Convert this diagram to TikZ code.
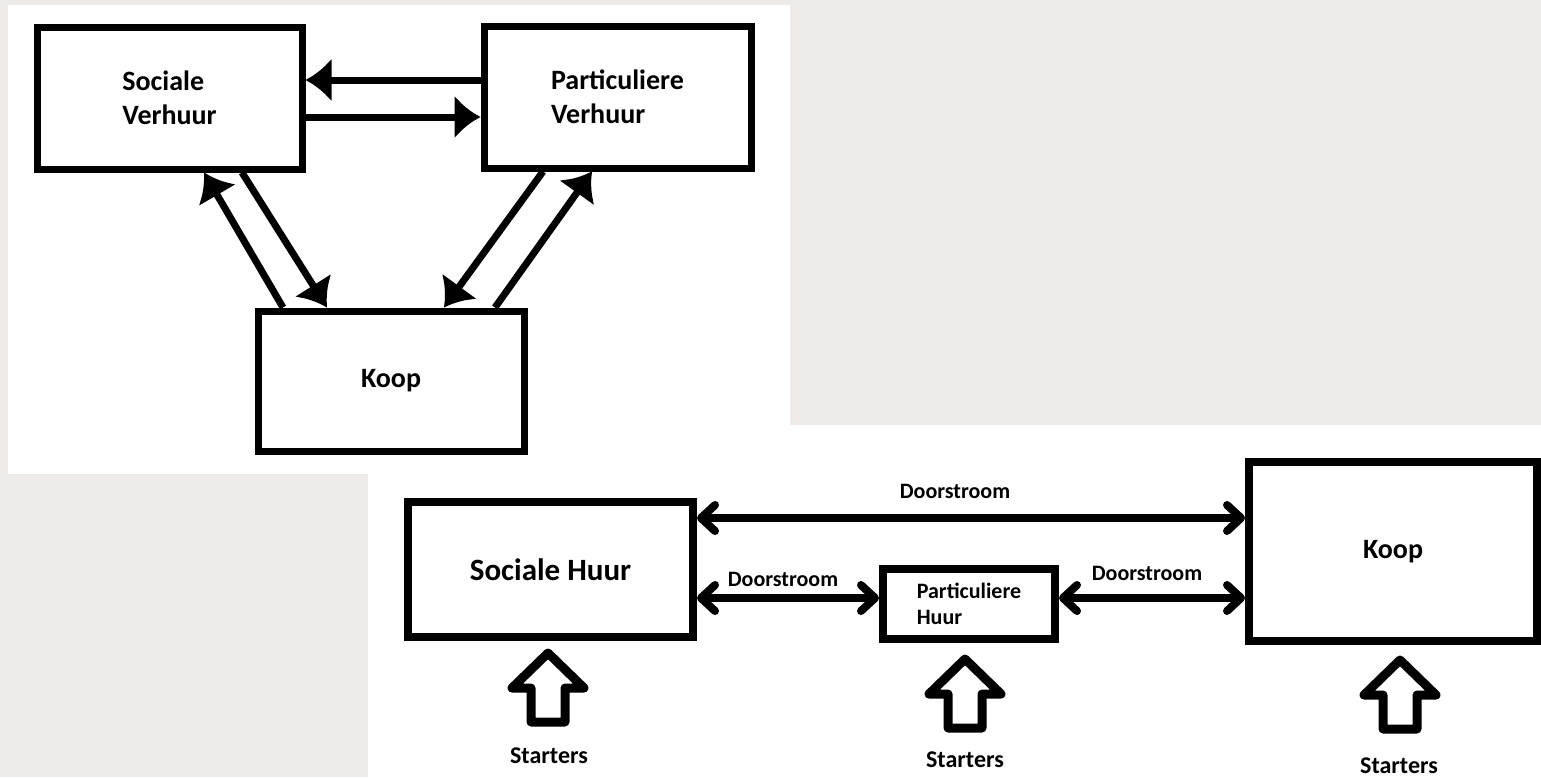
\documentclass[tikz,border=0pt]{standalone}
\usepackage{fontspec}
\setmainfont{Carlito}
\usepackage{tikz}
\usetikzlibrary{arrows.meta,backgrounds,calc,positioning}
\definecolor{paneelgrijs}{RGB}{237,234,231}

\begin{document}
\begin{tikzpicture}[x=0.5pt,y=-0.5pt,
blok/.style={draw,line width=3.5pt,fill=white,align=left,inner sep=0pt,font=\fontsize{14}{17}\selectfont\bfseries},
blokb/.style={draw,line width=4pt,fill=white,align=left,inner sep=0pt},
stroom/.style={line width=3.5pt,-{Latex[length=13pt,width=22pt]}},
door/.style={line width=4pt,{Straight Barb[length=7pt,width=13pt,round]}-{Straight Barb[length=7pt,width=13pt,round]}},
tekst/.style={inner sep=0pt,font=\fontsize{11}{13}\selectfont\bfseries},
starttekst/.style={inner sep=0pt,font=\fontsize{12}{14}\selectfont\bfseries},
starter/.pic={\draw[line width=4.5pt,line join=round,fill=white] (-17,0) -- (-17,-34) -- (-36,-34) -- (0,-69) -- (36,-34) -- (17,-34) -- (17,0) -- cycle;}
]
\useasboundingbox (0,0) rectangle (1541,777);
\fill[paneelgrijs] (0,0) rectangle (1541,777);
\fill[white] (8,5) rectangle (790,474);
\fill[white] (368,425) rectangle (1541,777);

\node[blok,minimum width=132.5pt,minimum height=71pt] (sv) at (169.5,98) {Sociale\\Verhuur};
\node[blok,minimum width=133.5pt,minimum height=71pt] (pv) at (617.5,97) {Particuliere\\Verhuur};
\node[blok,minimum width=133pt,minimum height=70pt] (kp) at (391,381) {Koop};

\draw[stroom] (pv.west |- 0,80) -- (sv.east |- 0,80);
\draw[stroom] (sv.east |- 0,117) -- (pv.west |- 0,117);
\draw[stroom] (kp.north -| 283,0) -- (sv.south -| 204,0);
\draw[stroom] (sv.south -| 242,0) -- (kp.north -| 327,0);
\draw[stroom] (pv.south -| 543,0) -- (kp.north -| 444,0);
\draw[stroom] (kp.north -| 495,0) -- (pv.south -| 592,0);

\node[blokb,font=\fontsize{15.5}{18}\selectfont\bfseries,minimum width=142.5pt,minimum height=67.5pt] (sh) at (550.5,569.5) {Sociale Huur};
\node[blokb,font=\fontsize{11}{13}\selectfont\bfseries,minimum width=86pt,minimum height=35pt] (ph) at (969,604) {Particuliere\\Huur};
\node[blokb,font=\fontsize{14}{16}\selectfont\bfseries,minimum width=144pt,minimum height=89.5pt] (kb) at (1393,551.5) {Koop};

\draw[door] (sh.east |- 0,518) -- (kb.west |- 0,518);
\draw[door] (sh.east |- 0,598) -- (ph.west |- 0,598);
\draw[door] (ph.east |- 0,598) -- (kb.west |- 0,598);
\node[tekst] (d1) at (955,491) {Doorstroom};
\node[tekst] (d2) at (783,579) {Doorstroom};
\node[tekst] (d3) at (1147,573) {Doorstroom};

\pic at (548,722) {starter};
\pic at (965,728) {starter};
\pic at (1400,729) {starter};
\node[starttekst] (s1) at (549,756) {Starters};
\node[starttekst] (s2) at (965,760) {Starters};
\node[starttekst] (s3) at (1399,766) {Starters};
\end{tikzpicture}
\end{document}
